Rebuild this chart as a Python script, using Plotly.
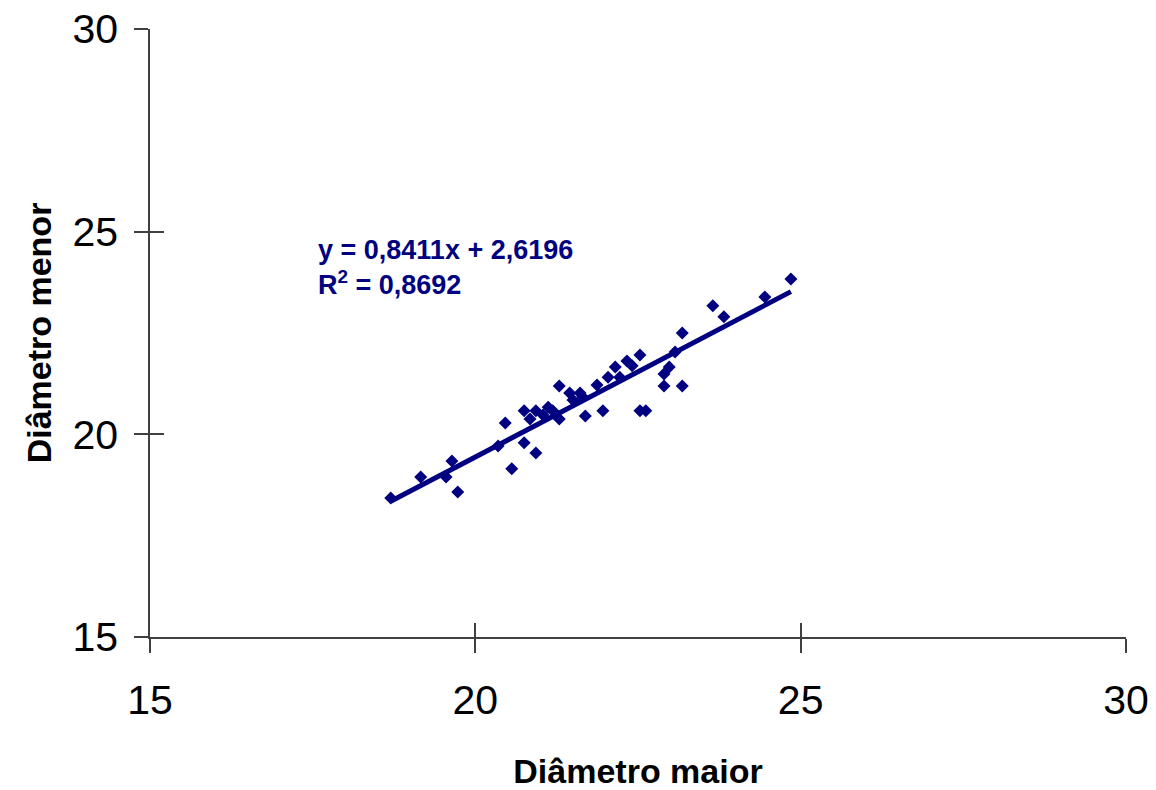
import plotly.graph_objects as go

diam_maior = [18.70, 19.16, 19.55, 19.64, 19.73, 20.46, 20.56, 20.75, 20.75, 20.84,
              20.93, 20.93, 21.04, 21.19, 21.29, 21.29, 21.45, 21.50, 21.61, 21.65,
              21.69, 21.87, 21.96, 22.04, 22.15, 22.22, 22.33, 22.41, 22.53, 22.53,
              22.62, 22.90, 22.90, 22.98, 23.18, 23.18, 23.07, 23.65, 23.82, 24.45,
              24.85, 20.35, 21.12]
diam_menor = [18.43, 18.95, 18.95, 19.34, 18.58, 20.28, 19.15, 19.79, 20.58, 20.38,
              19.54, 20.58, 20.48, 20.58, 21.19, 20.38, 21.02, 20.85, 21.02, 20.92,
              20.45, 21.22, 20.58, 21.41, 21.66, 21.41, 21.81, 21.69, 21.96, 20.58,
              20.58, 21.49, 21.19, 21.66, 21.19, 22.50, 22.03, 23.17, 22.90, 23.39,
              23.83, 19.71, 20.67]
slope = 0.8411
intercept = 2.6196
r2 = 0.8692
tick_vals = [15, 20, 25, 30]

navy = "#000080"
axis_col = "#404040"

x_fit = [min(diam_maior), max(diam_maior)]
y_fit = [slope * v + intercept for v in x_fit]

fig = go.Figure()
fig.add_trace(go.Scatter(x=diam_maior, y=diam_menor, mode="markers",
                         marker=dict(symbol="diamond", size=10, color=navy),
                         showlegend=False))
fig.add_trace(go.Scatter(x=x_fit, y=y_fit, mode="lines",
                         line=dict(color=navy, width=5), showlegend=False))

fam = "Liberation Sans, Arial, sans-serif"
font_ticks = dict(family=fam, size=41, color="black")
font_title = dict(family=fam, size=34, color="black")

fig.update_layout(
    width=1156, height=790,
    margin=dict(l=150, r=30, t=29, b=153, autoexpand=False),
    paper_bgcolor="white", plot_bgcolor="white",
    xaxis=dict(range=[15, 30], tickvals=tick_vals, showgrid=False, zeroline=False,
               showline=True, linecolor=axis_col, linewidth=1.5, automargin=False,
               ticks="outside", ticklen=14, tickcolor=axis_col, tickwidth=1.5,
               tickfont=font_ticks, ticklabelstandoff=12,
               title=dict(text="<b>Diâmetro maior</b>", font=font_title, standoff=40)),
    yaxis=dict(range=[15, 30], tickvals=tick_vals, showgrid=False, zeroline=False,
               showline=True, linecolor=axis_col, linewidth=1.5, automargin=False,
               ticks="outside", ticklen=14, tickcolor=axis_col, tickwidth=1.5,
               tickfont=font_ticks, ticklabelstandoff=8,
               title=dict(text="<b>Diâmetro menor</b>", font=font_title, standoff=11)),
    xaxis2=dict(range=[15, 30], tickvals=tick_vals, overlaying="x", side="bottom",
                anchor="y", showgrid=False, zeroline=False, showline=False,
                ticks="inside", ticklen=14, tickcolor=axis_col, tickwidth=1.5,
                showticklabels=False, automargin=False),
    yaxis2=dict(range=[15, 30], tickvals=tick_vals, overlaying="y", side="left",
                anchor="x", showgrid=False, zeroline=False, showline=False,
                ticks="inside", ticklen=14, tickcolor=axis_col, tickwidth=1.5,
                showticklabels=False, automargin=False),
)
# invisible trace to activate secondary axes
fig.add_trace(go.Scatter(x=[None], y=[None], xaxis="x2", yaxis="y2", showlegend=False,
                         hoverinfo="skip"))

fig.add_annotation(x=17.55, y=24.97, xref="x", yref="y", xanchor="left", yanchor="top",
                   showarrow=False, align="left",
                   text=f"<b>y = {str(slope).replace('.', ',')}x + {str(intercept).replace('.', ',')}<br>"
                        f"R<sup>2</sup> = {str(r2).replace('.', ',')}</b>",
                   font=dict(family=fam, size=27, color=navy))

fig.write_html("out.html")
